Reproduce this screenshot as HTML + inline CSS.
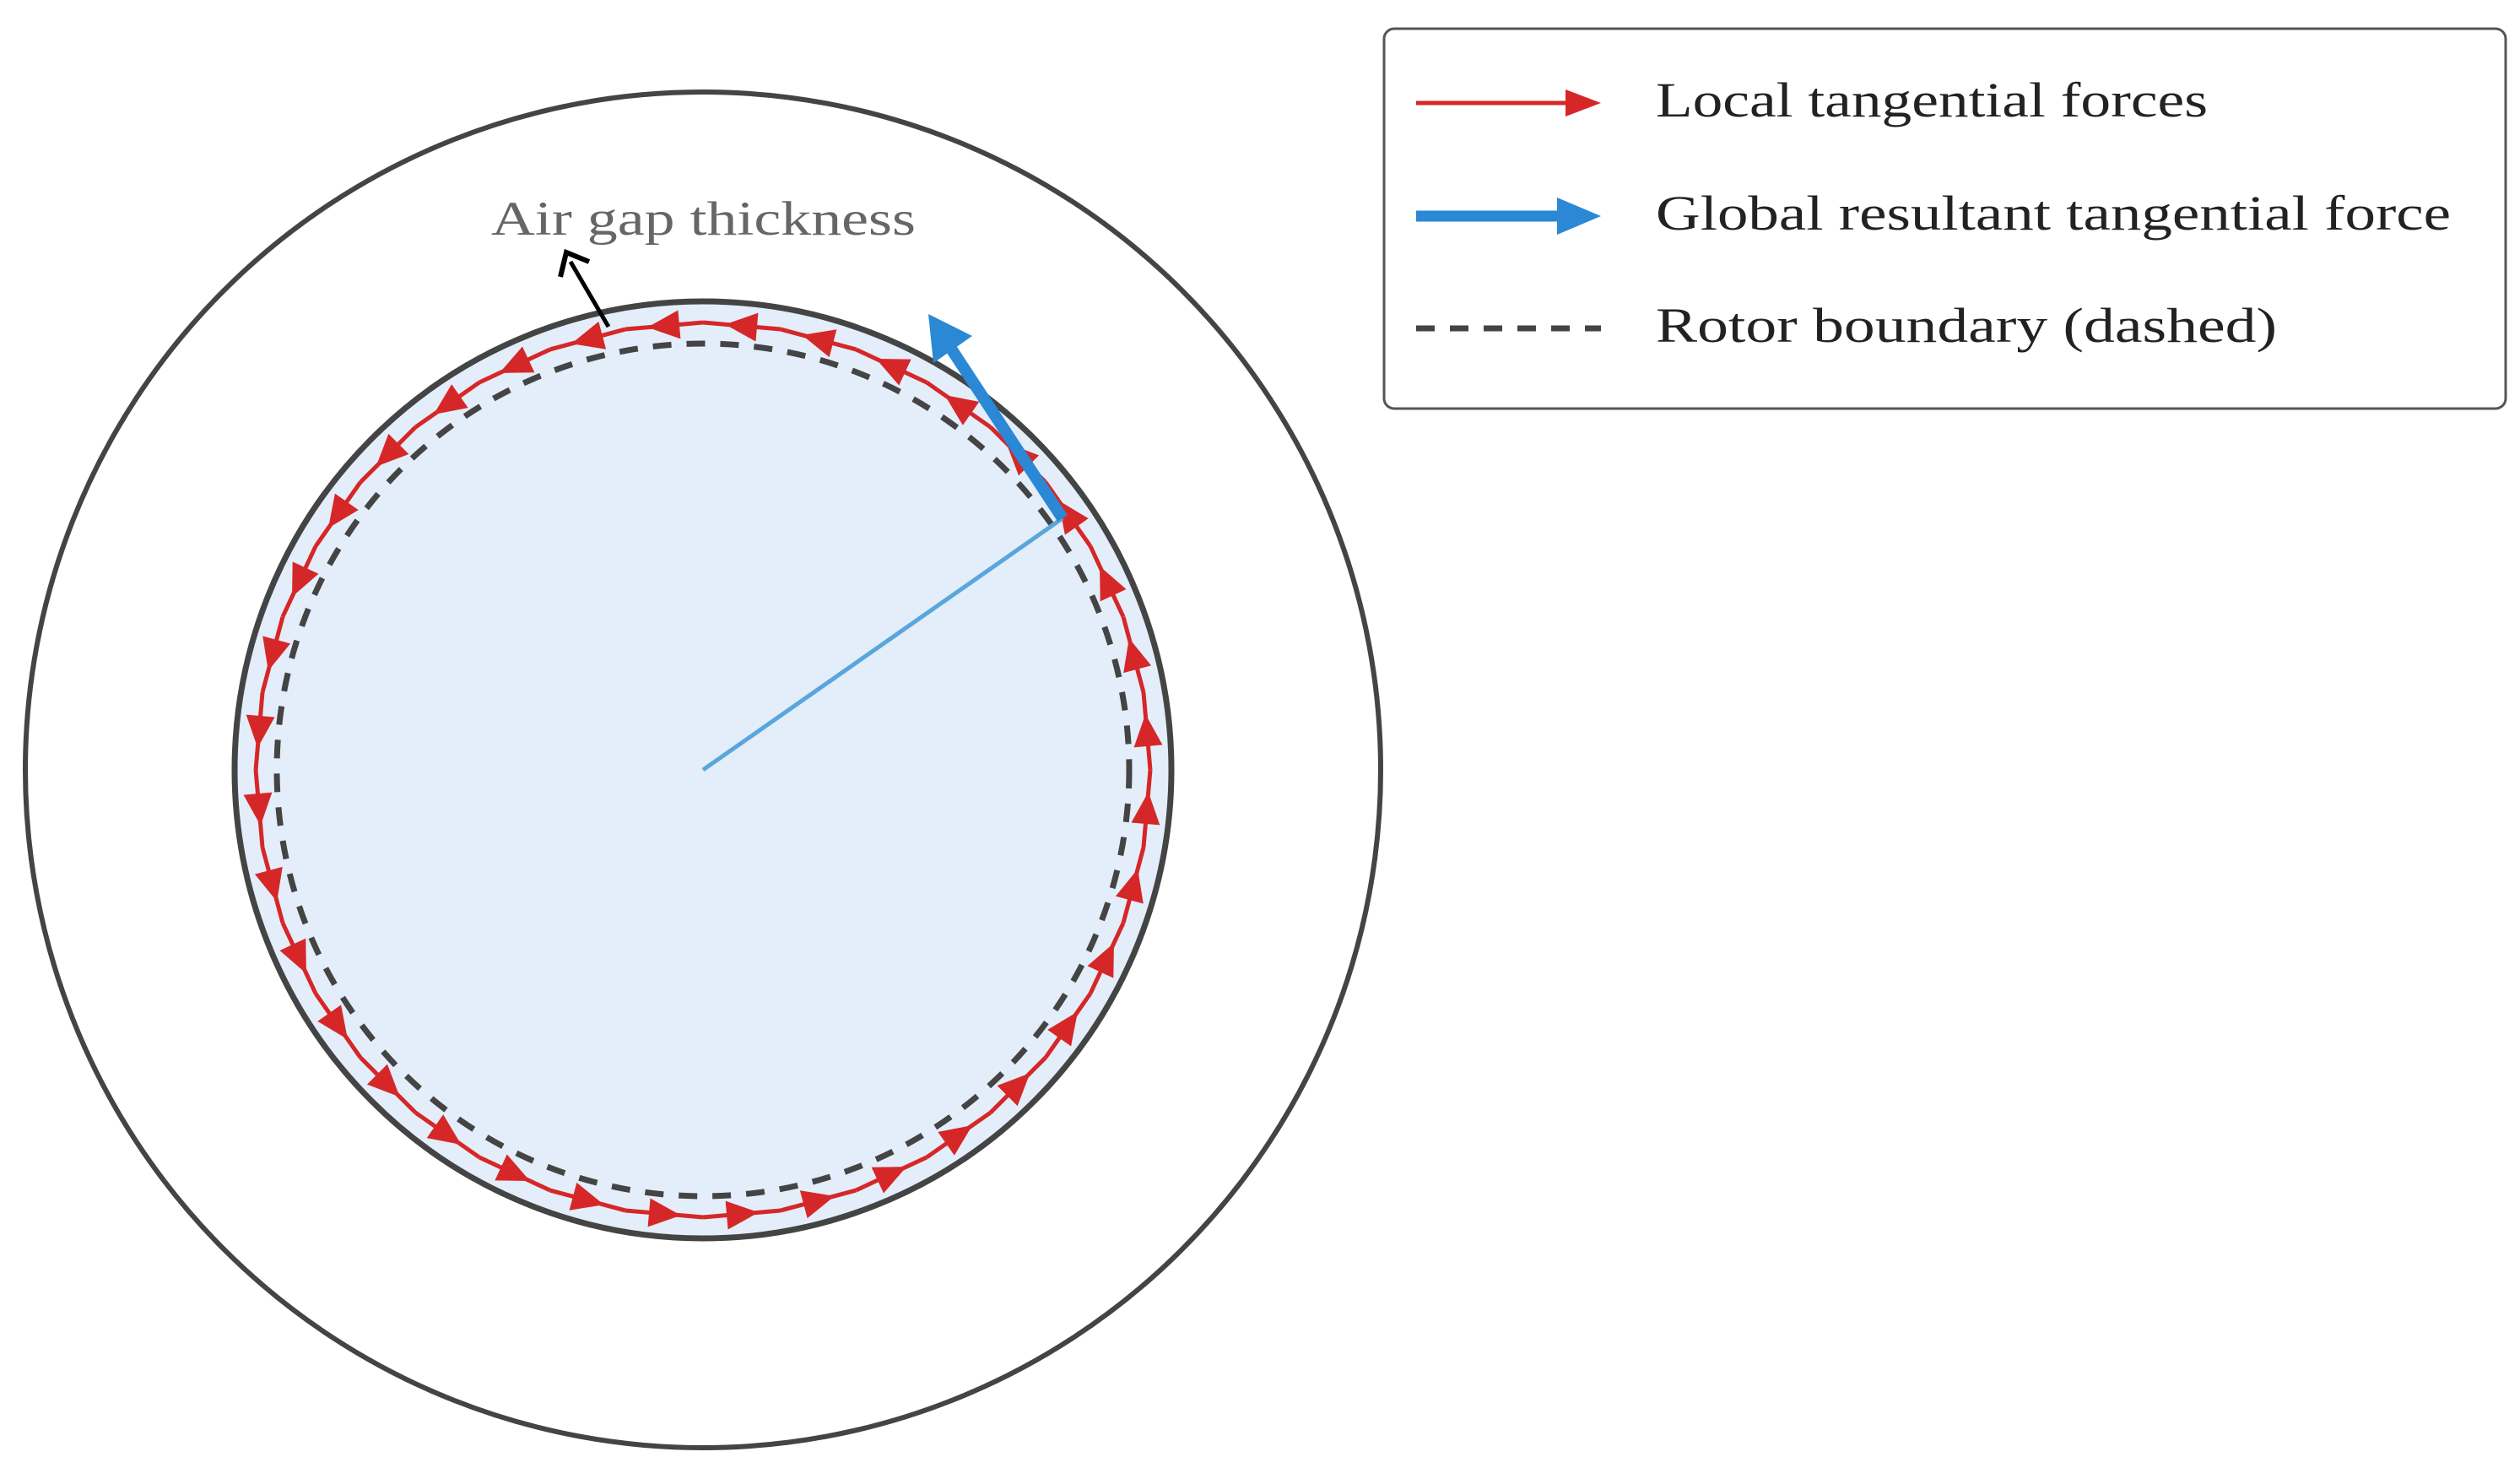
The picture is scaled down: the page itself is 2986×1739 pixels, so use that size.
<!DOCTYPE html>
<html><head><meta charset="utf-8"><style>
html,body{margin:0;padding:0;background:#fff;}
svg{display:block;}
text{font-family:"Liberation Serif",serif;}
</style></head><body>
<svg id="s" width="2986" height="1739" viewBox="0 0 2986 1739" xmlns="http://www.w3.org/2000/svg">
<circle cx="833" cy="912" r="803" fill="none" stroke="#444" stroke-width="6"/>
<circle cx="833" cy="912" r="555" fill="#e3eefa" stroke="#444" stroke-width="7"/>
<circle cx="833" cy="912" r="505" fill="none" stroke="#444" stroke-width="7" stroke-dasharray="22,18"/>
<g id="red"></g>
<line x1="833" y1="912" x2="1259" y2="614" stroke="#5aa6dc" stroke-width="5"/>
<line x1="1259" y1="614" x2="1125" y2="410" stroke="#2a88d4" stroke-width="14"/>
<polygon points="1100,372 1152,398 1106,430" fill="#2a88d4"/>
<line x1="721" y1="387" x2="676" y2="310" stroke="#000" stroke-width="5"/>
<polyline points="664,328 671,299 698,310" fill="none" stroke="#000" stroke-width="6"/>
<text x="582" y="278" font-size="57" fill="#666" textLength="503" lengthAdjust="spacingAndGlyphs">Air gap thickness</text>
<rect x="1640" y="34" width="1329" height="450" rx="12" fill="#fff" stroke="#555" stroke-width="3"/>
<line x1="1678" y1="122" x2="1860" y2="122" stroke="#d62728" stroke-width="5"/>
<polygon points="1897,122 1855,106 1855,138" fill="#d62728"/>
<line x1="1678" y1="256" x2="1850" y2="256" stroke="#2a88d4" stroke-width="13"/>
<polygon points="1897,256 1845,234 1845,278" fill="#2a88d4"/>
<line x1="1678" y1="389" x2="1897" y2="389" stroke="#444" stroke-width="7" stroke-dasharray="22,18"/>
<text x="1962" y="138" font-size="58" fill="#222" textLength="654" lengthAdjust="spacingAndGlyphs">Local tangential forces</text>
<text x="1962" y="272" font-size="58" fill="#222" textLength="942" lengthAdjust="spacingAndGlyphs">Global resultant tangential force</text>
<text x="1962" y="405" font-size="58" fill="#222" textLength="736" lengthAdjust="spacingAndGlyphs">Rotor boundary (dashed)</text>
</svg>
<script>
var g=document.getElementById('red'),cx=833,cy=912,r=530,N=36,s='';
function P(a){return [cx+r*Math.cos(a),cy-r*Math.sin(a)];}
for(var k=0;k<N;k++){var a0=k*2*Math.PI/N,a1=(k+1)*2*Math.PI/N;var p=P(a0),q=P(a1);
s+='<line x1="'+p[0]+'" y1="'+p[1]+'" x2="'+q[0]+'" y2="'+q[1]+'" stroke="#d62728" stroke-width="5"/>';
var mx=(p[0]+q[0])/2,my=(p[1]+q[1])/2,dx=q[0]-p[0],dy=q[1]-p[1],L=Math.hypot(dx,dy);dx/=L;dy/=L;
var tx=mx+dx*20,ty=my+dy*20,bx=mx-dx*18,by=my-dy*18;
s+='<polygon points="'+tx+','+ty+' '+(bx-dy*17)+','+(by+dx*17)+' '+(bx+dy*17)+','+(by-dx*17)+'" fill="#d62728"/>';}
g.innerHTML=s;
</script>
</body></html>
